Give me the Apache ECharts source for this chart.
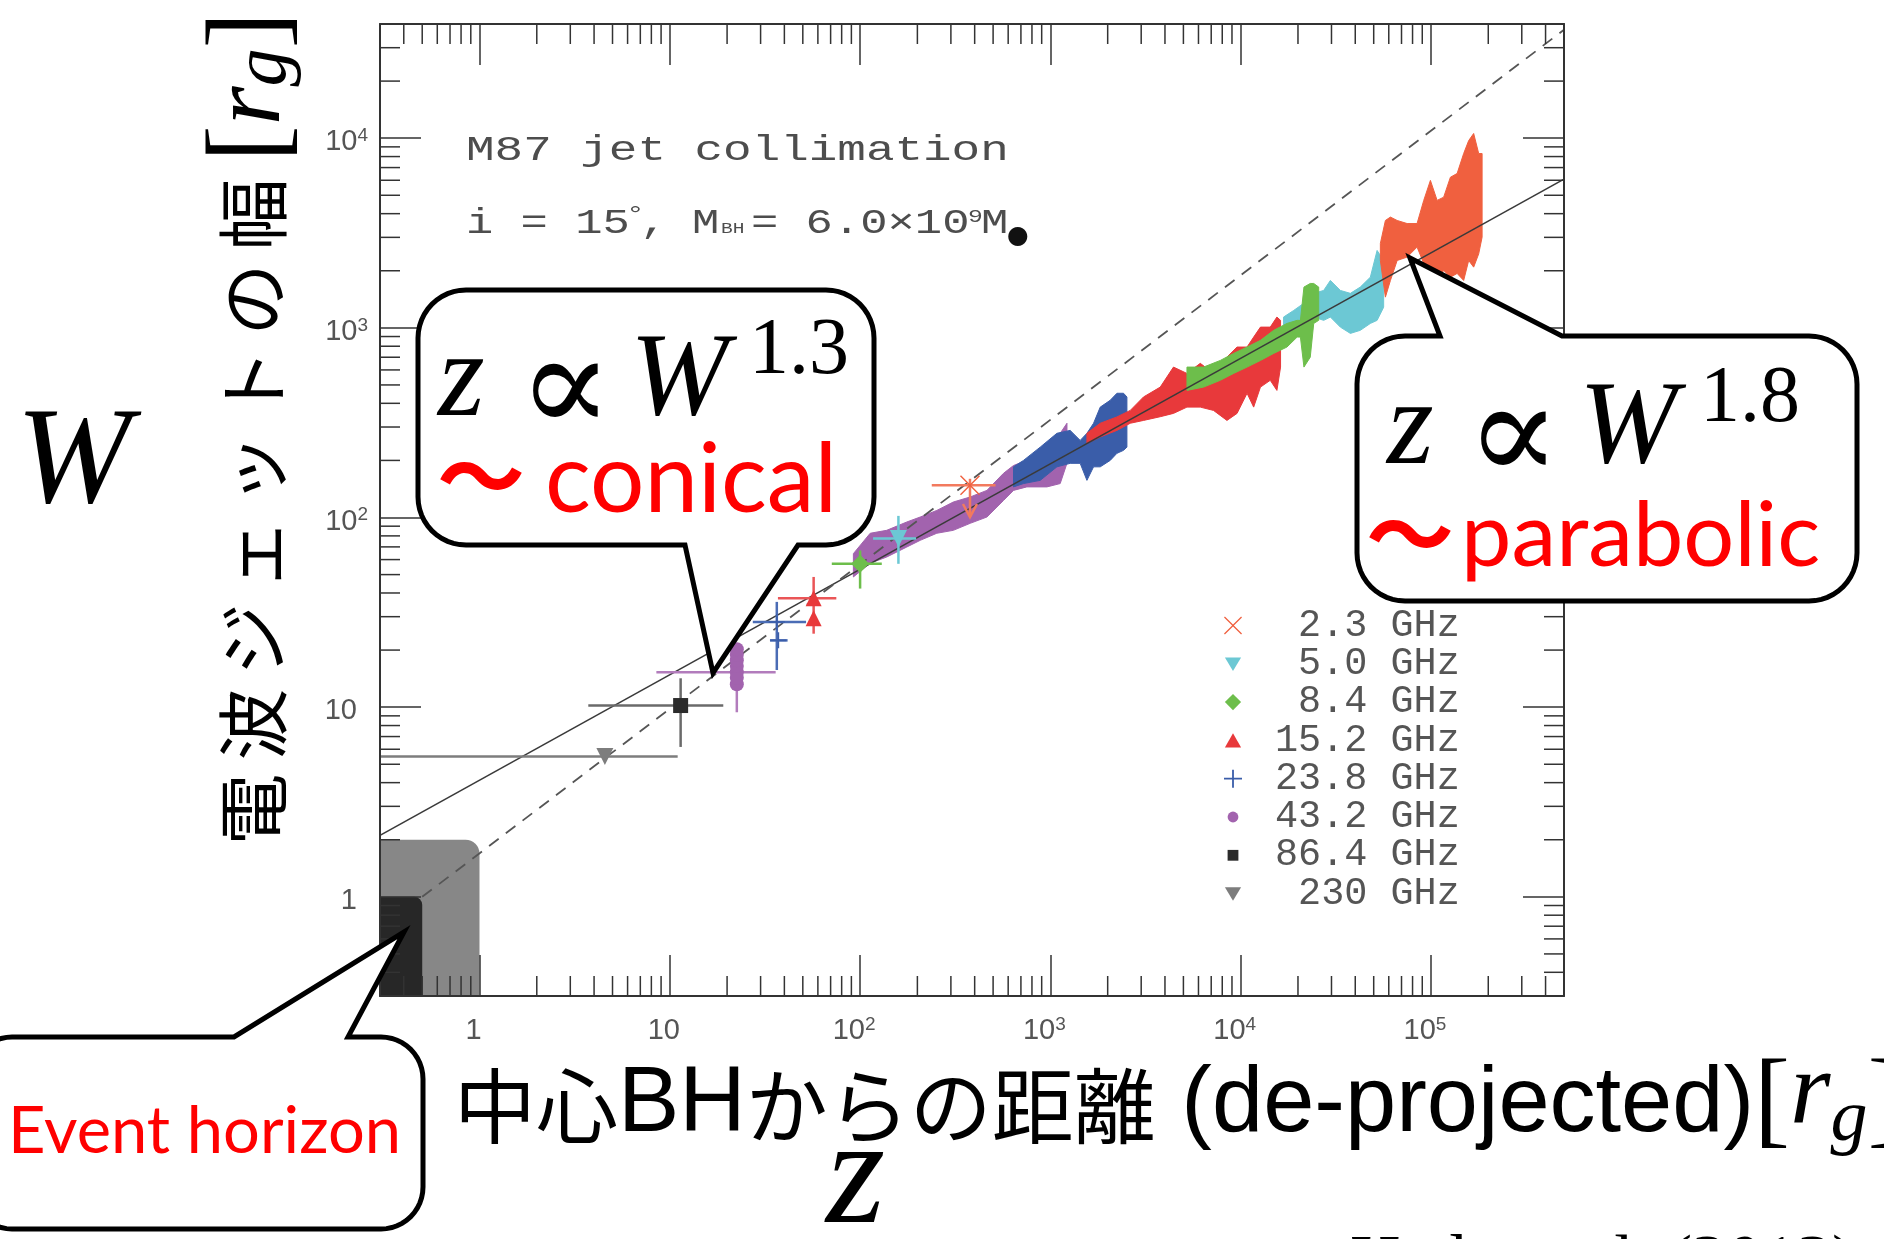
<!DOCTYPE html>
<html>
<head>
<meta charset="utf-8">
<script src="https://cdn.jsdelivr.net/npm/echarts@6.0.0/dist/echarts.min.js"></script>
<style>
html,body{margin:0;padding:0;background:#ffffff;}
#chart{width:1884px;height:1239px;}
</style>
</head>
<body>
<div id="chart"></div>
<script>
// ---------------- data ----------------
const frequencies = ['2.3 GHz','5.0 GHz','8.4 GHz','15.2 GHz','23.8 GHz','43.2 GHz','86.4 GHz','230 GHz'];
const xRange = [0.3, 5e5];
const yRange = [0.3, 4e4];
const xMajorTicks = [1, 10, 100, 1000, 10000, 100000];
const xTickLabels = ['1', '10', '10{sup|2}', '10{sup|3}', '10{sup|4}', '10{sup|5}'];
const yMajorTicks = [1, 10, 100, 1000, 10000];
const yTickLabels = ['{p|1}', '{p|10}', '10{sup|2}', '10{sup|3}', '10{sup|4}'];
const minorDecades = [0.1, 1, 10, 100, 1000, 10000, 100000];
const minorSteps = [2, 3, 4, 5, 6, 7, 8, 9];

// bands: [z, W_low, W_high]
const band43_2 = [[92.2,48.6,64.5],[113,57.4,82.6],[138,61.9,85.6],[176,69.9,94.7],[207,75.8,100.6],[253,82.6,109],[309,85.6,120.7],[379,93.2,128.3],[464,100.6,139],[567,123,171],[640,139,188],[752,145,200],[959,145,235],[1126,151,278],[1222,193,314]];
const band23_8 = [[640,145,185],[722,151,200],[884,157,235],[1082,185,278],[1270,193,288],[1434,193,255],[1556,157,278],[1686,185,314],[1828,185,382],[2062,200,415],[2237,218,452],[2423,226,452],[2524,235,432]];
const band15_2 = [[1556,246,278],[1828,266,314],[2237,288,339],[2628,314,367],[3085,325,432],[3778,340,487],[4433,354,621],[5220,382,575],[6133,382,650],[7200,367,575],[8469,325,701],[9568,354,792],[10800,452,792],[11700,382,894],[12700,487,1009],[14300,529,1009],[15500,468,1140],[16200,621,1095]];
const band5_0 = [[16800,970,1140],[19000,970,1236],[21400,1009,1345],[24200,1140,1520],[27300,1095,1575],[29600,1140,1778],[33400,1009,1575],[37700,935,1520],[42500,970,1640],[48000,1055,1850],[52100,1095,2559],[56400,1285,2266]];
const band8_4 = [[5220,468,621],[6380,487,621],[7810,529,673],[9180,575,733],[10800,621,792],[12700,673,859],[14900,733,970],[17500,792,1055],[19800,894,1095],[20600,894,1095],[21500,621,1640],[23200,700,1714],[24200,1055,1714],[25700,1095,1640]];
const band2_3 = [[54200,2266,2786],[57600,1452,3683],[61200,1778,3837],[66400,2266,3683],[74900,2360,3548],[84500,2666,3548],[91600,2186,4700],[99300,2090,5990],[107700,1778,4700],[116600,2009,4887],[126500,1850,6227],[137200,1936,6515],[148500,1778,8300],[157800,2266,9710],[167600,2090,10590],[178100,2455,8300],[185600,3007,8300]];

// single measurements: [z, W, z_low, z_high, W_low, W_high, upperLimit]
const pts2_3  = [[378, 148, 238, 515, 100.6, 160, 1]];
const pts5_0  = [[159, 77.4, 117, 197, 57, 102]];
const pts8_4  = [[100, 57, 71, 130, 42.2, 67]];
const pts15_2 = [[57, 37.5, 37, 75, 24.4, 48.6], [57, 29.4]];
const pts23_8 = [[36.5, 28.1, 27.3, 52, 15.7, 35.9], [37.2, 22.5, 33.6, 41.6, 22.5, 22.5]];
const pts43_2 = [[22.5, 15.3, 8.5, 36, 9.4, 21.8], [22.5, 13.2], [22.5, 14.3], [22.5, 16.5], [22.5, 17.7], [22.5, 18.9], [22.5, 20.2]];
const pts86_4 = [[11.4, 10.2, 3.73, 19.1, 6.17, 14.2]];
const pts230  = [[4.56, 5.5, 0.3, 11.0, 5.5, 5.5]];

// fitted power laws (end points)
const fitParabolic = [[0.3, 2.11], [5e5, 6080]];
const fitConical   = [[0.5, 1.0], [5e5, 37300]];
// event horizon shading: [z0, z1, W0, W1]
const eventHorizonBoxes = [[0.3, 1.0, 0.3, 2.0], [0.3, 0.5, 0.3, 1.0]];

// ---------------- styling ----------------
const MONO = 'Liberation Mono', SERIF = 'Liberation Serif', SANS = 'Liberation Sans', CJK = 'Noto Sans CJK JP', LATO = 'Lato';
const X_PATH = 'path://M1,0 L10,9 L19,0 L20,1 L11,10 L20,19 L19,20 L10,11 L1,20 L0,19 L9,10 L0,1 Z';
const PLUS_PATH = 'path://M9,0 H11 V9 H20 V11 H11 V20 H9 V11 H0 V9 H9 Z';
const TRI_DOWN = 'path://M0,0 L20,0 L10,17 Z';
const legendIcons = [
  X_PATH,
  'path://M0,0 M20,20 M1,3 L19,3 L10,18 Z',
  'path://M0,0 M20,20 M10,1 L19,10 L10,19 L1,10 Z',
  'path://M0,0 M20,20 M10,2 L19,18 L1,18 Z',
  PLUS_PATH,
  'path://M0,0 M20,20 M10,4 A6,6 0 0,1 10,16 A6,6 0 0,1 10,4 Z',
  'path://M0,0 M20,20 M4,4 H16 V16 H4 Z',
  'path://M0,0 M20,20 M1,3 L19,3 L10,18 Z'
];
const markerDefs = [
  {name:'2.3 GHz',  pts:pts2_3,  color:'#f0603f', bar:'#f27a5e', symbol:X_PATH, size:20},
  {name:'5.0 GHz',  pts:pts5_0,  color:'#6cc8d4', bar:'#6cc8d4', symbol:TRI_DOWN, size:17},
  {name:'8.4 GHz',  pts:pts8_4,  color:'#6dbe4b', bar:'#6dbe4b', symbol:'diamond', size:18},
  {name:'15.2 GHz', pts:pts15_2, color:'#e8393b', bar:'#ea5557', symbol:'triangle', size:16},
  {name:'23.8 GHz', pts:pts23_8, color:'#3a5da9', bar:'#4a6cb5', symbol:PLUS_PATH, size:16},
  {name:'43.2 GHz', pts:pts43_2, color:'#a263ae', bar:'#b27cbc', symbol:'circle', size:14},
  {name:'86.4 GHz', pts:pts86_4, color:'#2b2b2b', bar:'#6a6a6a', symbol:'rect', size:15},
  {name:'230 GHz',  pts:pts230,  color:'#7d7d7d', bar:'#7d7d7d', symbol:TRI_DOWN, size:17}
];
const bandDefs = [
  {name:'43.2 GHz', band:band43_2, color:'#a263ae'},
  {name:'23.8 GHz', band:band23_8, color:'#3a5da9'},
  {name:'15.2 GHz', band:band15_2, color:'#e8393b'},
  {name:'5.0 GHz',  band:band5_0,  color:'#6cc8d4'},
  {name:'8.4 GHz',  band:band8_4,  color:'#6dbe4b'},
  {name:'2.3 GHz',  band:band2_3,  color:'#f0603f'}
];

function minorValues(range) {
  const out = [];
  minorDecades.forEach(d => minorSteps.forEach(s => {
    const v = d * s;
    if (v > range[0] * 1.001 && v < range[1] * 0.999) out.push(v);
  }));
  return out;
}
const xMinorTicks = minorValues(xRange);
const yMinorTicks = minorValues(yRange);

function labelFor(v, ticks, labels) {
  for (let i = 0; i < ticks.length; i++) {
    if (Math.abs(Math.log10(v) - Math.log10(ticks[i])) < 1e-6) return labels[i];
  }
  return '';
}

// ---------------- series ----------------
const series = [];
series.push({
  type:'custom', name:'eventHorizon', silent:true, z:1, data:eventHorizonBoxes,
  renderItem(params, api) {
    const tl = api.coord([api.value(0), api.value(3)]);
    const br = api.coord([api.value(1), api.value(2)]);
    const big = params.dataIndex === 0;
    return {type:'rect', shape:{x:tl[0], y:tl[1], width:br[0]-tl[0], height:br[1]-tl[1], r:[0, big ? 14 : 8, 0, 0]},
            style:{fill: big ? '#878787' : '#272727'}};
  }
});
bandDefs.forEach(def => {
  series.push({
    type:'custom', name:def.name, silent:true, z:2, itemStyle:{color:def.color}, data:def.band,
    renderItem(params, api) {
      if (params.dataIndex !== 0) return;
      const upper = def.band.map(d => api.coord([d[0], d[2]]));
      const lower = def.band.map(d => api.coord([d[0], d[1]])).reverse();
      return {type:'polygon', shape:{points: upper.concat(lower)}, style:{fill:def.color, stroke:def.color, lineWidth:1}};
    }
  });
});
series.push({type:'line', name:'fitParabolic', data:fitParabolic, symbol:'none', silent:true, z:3,
  lineStyle:{color:'#3a3a3a', width:1.6}});
series.push({type:'line', name:'fitConical', data:fitConical, symbol:'none', silent:true, z:3,
  lineStyle:{color:'#555555', width:1.8, type:[12, 9]}});
markerDefs.forEach(def => {
  const withErr = def.pts.filter(p => p.length >= 6);
  series.push({
    type:'custom', name:def.name, silent:true, z:4, itemStyle:{color:def.color}, data:withErr,
    renderItem(params, api) {
      const p = withErr[params.dataIndex];
      const l = api.coord([p[2], p[1]]), r = api.coord([p[3], p[1]]);
      const t = api.coord([p[0], p[5]]), b = api.coord([p[0], p[4]]);
      const st = {stroke:def.bar, lineWidth:2.5, fill:'none'};
      const ch = [{type:'line', shape:{x1:l[0], y1:l[1], x2:r[0], y2:r[1]}, style:st}];
      if (Math.abs(t[1] - b[1]) > 1) ch.push({type:'line', shape:{x1:t[0], y1:t[1], x2:b[0], y2:b[1]}, style:st});
      if (p[6] === 1) ch.push({type:'polyline', shape:{points:[[b[0]-7, b[1]-13], [b[0], b[1]], [b[0]+7, b[1]-13]]}, style:st});
      return {type:'group', children:ch};
    }
  });
  series.push({type:'scatter', name:def.name, silent:true, z:5, symbol:def.symbol, symbolSize:def.size,
    itemStyle:{color:def.color, opacity:1}, data:def.pts.map(p => [p[0], p[1]])});
});
series.push({
  type:'custom', name:'xMinorTicks', silent:true, z:6, data:xMinorTicks.map(v => [v, yRange[0]]),
  renderItem(params, api) {
    const v = api.value(0);
    const b = api.coord([v, yRange[0]]), t = api.coord([v, yRange[1]]);
    const st = {stroke:'#333', lineWidth:1.5};
    return {type:'group', children:[
      {type:'line', shape:{x1:b[0], y1:b[1], x2:b[0], y2:b[1]-20}, style:st},
      {type:'line', shape:{x1:t[0], y1:t[1], x2:t[0], y2:t[1]+20}, style:st}]};
  }
});
series.push({
  type:'custom', name:'yMinorTicks', silent:true, z:6, data:yMinorTicks.map(v => [xRange[0], v]),
  renderItem(params, api) {
    const v = api.value(1);
    const l = api.coord([xRange[0], v]), r = api.coord([xRange[1], v]);
    const st = {stroke:'#333', lineWidth:1.5};
    return {type:'group', children:[
      {type:'line', shape:{x1:l[0], y1:l[1], x2:l[0]+20, y2:l[1]}, style:st},
      {type:'line', shape:{x1:r[0], y1:r[1], x2:r[0]-20, y2:r[1]}, style:st}]};
  }
});

// ---------------- annotation graphics ----------------
function bubblePoints(L, T, R, B, r, tail) {
  const pts = [];
  const arc = (cx, cy, a0, a1) => {
    for (let k = 0; k <= 12; k++) {
      const a = a0 + (a1 - a0) * k / 12;
      pts.push([cx + r * Math.cos(a), cy + r * Math.sin(a)]);
    }
  };
  arc(L + r, T + r, Math.PI, 1.5 * Math.PI);
  if (tail.edge === 'top') pts.push([tail.a, T], [tail.tx, tail.ty], [tail.b, T]);
  arc(R - r, T + r, 1.5 * Math.PI, 2 * Math.PI);
  arc(R - r, B - r, 0, 0.5 * Math.PI);
  if (tail.edge === 'bottom') pts.push([tail.b, B], [tail.tx, tail.ty], [tail.a, B]);
  arc(L + r, B - r, 0.5 * Math.PI, Math.PI);
  return pts;
}
const bubbleStyle = {fill:'#ffffff', stroke:'#000000', lineWidth:5, lineJoin:'miter', miterLimit:30};
function bubble(L, T, R, B, r, tail) {
  return {type:'polygon', z:100, silent:true, shape:{points:bubblePoints(L, T, R, B, r, tail)}, style:bubbleStyle};
}
function T(text, x, y, st, extra) {
  return Object.assign({type:'text', x:x, y:y, z:101, silent:true,
    style:Object.assign({text:text, fill:'#000000', align:'left', verticalAlign:'middle'}, st)}, extra || {});
}
const mathI = (f) => ({fontFamily:SERIF, fontStyle:'italic', fontSize:f});
const propTo = {fontFamily:'DejaVu Serif', fontSize:140};
const tildeSt = {fontFamily:CJK, fontWeight:'bold', fontSize:88, fill:'#ff0000'};
const monoSt = {fontFamily:MONO, fontSize:35, fill:'#4d4d4d'};
const SX = 1.36, SX2 = 1.30;

const yTitleJa = '電波ジェットの幅';
const yTitle = yTitleJa.split('').map(c => '{c|' + c + '}').join('') + '{sp| }{b|[}{ri|r}{g|g}{b|]}';
const xTitle = '{c|中心}{l|BH}{c|からの距離}{l| (de-projected)}{b|[}{ri|r}{g|g}{b|]}';

const graphics = [
  // plot annotations
  T('M87 jet collimation', 466, 151, monoSt, {z:50, scaleX:SX}),
  T('i = 15', 466, 224, monoSt, {z:50, scaleX:SX2}),
  T('°', 626, 216, {fontFamily:MONO, fontSize:24, fill:'#4d4d4d'}, {z:50, scaleX:SX2}),
  T(',', 640, 224, monoSt, {z:50, scaleX:SX2}),
  T('M', 692, 224, monoSt, {z:50, scaleX:SX2}),
  T('BH', 721, 229, {fontFamily:MONO, fontSize:15, fill:'#4d4d4d'}, {z:50, scaleX:SX2}),
  T('= 6.0×10', 751, 224, monoSt, {z:50, scaleX:SX2}),
  T('9', 968, 217, {fontFamily:MONO, fontSize:19, fill:'#4d4d4d'}, {z:50, scaleX:SX2}),
  T('M', 981, 224, monoSt, {z:50, scaleX:SX2}),
  T('●', 1007, 236, {fontFamily:'DejaVu Sans', fontSize:25, fill:'#111'}, {z:50}),
  // axis titles and symbols
  T('W', 16, 466, mathI(138), {z:50}),
  T('z', 826, 1182, mathI(152), {z:50}),
  T('Hada et al. (2013)', 1350, 1265, {fontFamily:SERIF, fontSize:70}, {z:50}),
  T(yTitle, 253, 852, {rich:{
      c:{fontFamily:CJK, fontSize:72, padding:[0, 6.5], lineHeight:110},
      sp:{fontFamily:SERIF, fontSize:40, lineHeight:110},
      b:{fontFamily:SERIF, fontSize:110, lineHeight:110},
      ri:{fontFamily:SERIF, fontStyle:'italic', fontSize:100, lineHeight:110},
      g:{fontFamily:SERIF, fontStyle:'italic', fontSize:76, padding:[24, 0, 0, 0], lineHeight:110}
    }}, {z:50, rotation:Math.PI / 2}),
  T(xTitle, 454, 1106, {rich:{
      c:{fontFamily:CJK, fontSize:82, lineHeight:110},
      l:{fontFamily:SANS, fontSize:92, lineHeight:110},
      b:{fontFamily:SERIF, fontSize:108, lineHeight:110},
      ri:{fontFamily:SERIF, fontStyle:'italic', fontSize:104, padding:[0, 0, 20, 0], lineHeight:110},
      g:{fontFamily:SERIF, fontStyle:'italic', fontSize:74, padding:[30, 0, 0, 0], lineHeight:110}
    }}, {z:50}),
  // speech bubbles
  bubble(418, 290, 874, 545, 48, {edge:'bottom', a:685, b:798, tx:713, ty:673}),
  bubble(1357, 336, 1857, 601, 48, {edge:'top', a:1440, b:1562, tx:1410, ty:258}),
  bubble(-30, 1037, 423, 1229, 42, {edge:'top', a:234, b:348, tx:404, ty:932}),
  T('z', 438, 383, mathI(120)),
  T('∝', 518, 396, propTo),
  T('W', 630, 383, mathI(118)),
  T('1.3', 749, 352, {fontFamily:SERIF, fontSize:80}),
  T('～', 437, 476, tildeSt),
  T('conical', 545, 481, {fontFamily:LATO, fontSize:96, fill:'#ff0000'}),
  T('z', 1387, 431, mathI(120)),
  T('∝', 1466, 444, propTo),
  T('W', 1579, 431, mathI(118)),
  T('1.8', 1700, 400, {fontFamily:SERIF, fontSize:80}),
  T('～', 1366, 534, tildeSt),
  T('parabolic', 1461, 537, {fontFamily:LATO, fontSize:90, fill:'#ff0000'}),
  T('Event horizon', 8, 1132, {fontFamily:LATO, fontSize:65, fill:'#ff0000'})
];

// ---------------- axes ----------------
const axisLineSt = {show:true, lineStyle:{color:'#333', width:2}};
const axisTickSt = {show:true, inside:true, length:41, lineStyle:{color:'#333', width:1.5}};
const labelSt = {fontFamily:SANS, fontSize:29, color:'#555', lineHeight:32};
const supSt = {fontFamily:SANS, fontSize:19, color:'#555', lineHeight:19, verticalAlign:'top'};

const option = {
  animation:false,
  backgroundColor:'#ffffff',
  grid:{left:380, top:24, width:1184, height:972, containLabel:false, show:false},
  xAxis:[
    {type:'log', logBase:10, min:xRange[0], max:xRange[1], position:'bottom', z:10, splitNumber:6,
     axisLine:axisLineSt, axisTick:axisTickSt, splitLine:{show:false}, minorTick:{show:false},
     axisLabel:Object.assign({show:true, margin:19, showMinLabel:false, showMaxLabel:false, padding:[0, 12, 0, 0],
       formatter:(v) => labelFor(v, xMajorTicks, xTickLabels), rich:{sup:supSt}}, labelSt)},
    {type:'log', logBase:10, min:xRange[0], max:xRange[1], position:'top', z:10, splitNumber:6,
     axisLine:axisLineSt, axisTick:axisTickSt, splitLine:{show:false}, minorTick:{show:false}, axisLabel:{show:false}}
  ],
  yAxis:[
    {type:'log', logBase:10, min:yRange[0], max:yRange[1], position:'left', z:10, splitNumber:6,
     axisLine:axisLineSt, axisTick:axisTickSt, splitLine:{show:false}, minorTick:{show:false},
     axisLabel:Object.assign({show:true, margin:12, showMinLabel:false, showMaxLabel:false, align:'right', padding:[8, 0, 0, 0],
       formatter:(v) => labelFor(v, yMajorTicks, yTickLabels),
       rich:{sup:supSt, p:Object.assign({padding:[0, 11, 0, 0]}, labelSt)}}, labelSt)},
    {type:'log', logBase:10, min:yRange[0], max:yRange[1], position:'right', z:10, splitNumber:6,
     axisLine:axisLineSt, axisTick:axisTickSt, splitLine:{show:false}, minorTick:{show:false}, axisLabel:{show:false}}
  ],
  legend:{
    show:true, orient:'vertical', left:1224, top:606, padding:0, itemGap:-0.7, itemWidth:18, itemHeight:18,
    selectedMode:false,
    data:frequencies.map((f, i) => ({name:f, icon:legendIcons[i]})),
    formatter:(name) => '{t|' + name.padStart(8, ' ') + '}',
    textStyle:{color:'#555', fontFamily:MONO, fontSize:38.5, lineHeight:37.6,
      rich:{t:{color:'#555', fontFamily:MONO, fontSize:38.5, lineHeight:37.6, padding:[0, 0, 0, 28]}}}
  },
  tooltip:{show:false},
  series:series,
  graphic:{elements:graphics}
};

const chart = echarts.init(document.getElementById('chart'), null, {renderer:'canvas', width:1884, height:1239});
chart.setOption(option);
</script>
</body>
</html>
